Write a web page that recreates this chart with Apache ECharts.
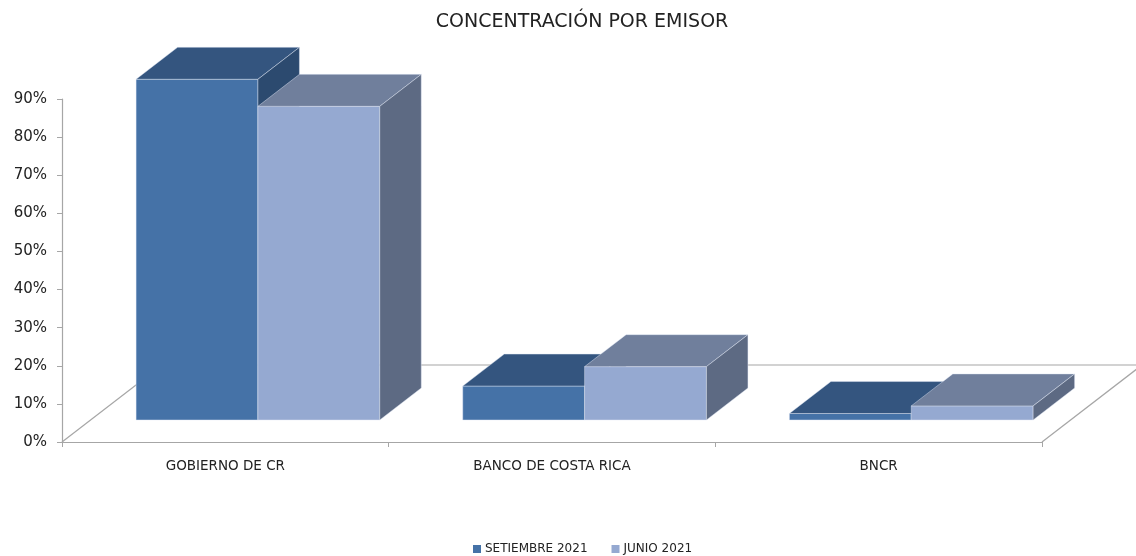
<!DOCTYPE html>
<html>
<head>
    <meta charset="utf-8">
    <script src="https://cdn.jsdelivr.net/npm/echarts@6/dist/echarts.min.js"></script>
</head>
<body style="margin:0;">
<div id="main" style="width: 1136px;height:556px;"></div>
<script type="text/javascript">
    // datos
    var emisores = ['GOBIERNO DE CR', 'BANCO DE COSTA RICA', 'BNCR'];
    var setiembre2021 = [0.894, 0.089, 0.017];
    var junio2021 = [0.823, 0.140, 0.037];
    var yTicks = [0, 0.1, 0.2, 0.3, 0.4, 0.5, 0.6, 0.7, 0.8, 0.9];

    // perspectiva del piso 3D (px)
    var FLOOR_DX = 100, FLOOR_DY = 77;
    var FRONT_FRAC = 0.286, DEPTH_FRAC = 0.415;
    var BAR_FRAC = 0.373, PAIR_SHIFT = 4;

    var colSet = { front: '#4572a7', top: '#34557f', side: '#2c4a6f' };
    var colJun = { front: '#95a9d1', top: '#707f9c', side: '#5d6a83' };

    var FONT = 'DejaVu Sans';

    var myChart = echarts.init(document.getElementById('main'));

    function barRenderer(idx, col) {
        return function (params, api) {
            var cat = api.value(0);
            var val = api.value(1);
            var base = api.coord([cat, 0]);
            var top = api.coord([cat, val]);
            var band = api.size([1, 0])[0];
            var w = band * BAR_FRAC;
            var fx = FLOOR_DX * FRONT_FRAC, fy = FLOOR_DY * FRONT_FRAC;
            var dx = FLOOR_DX * DEPTH_FRAC, dy = FLOOR_DY * DEPTH_FRAC;
            var x0 = base[0] + PAIR_SHIFT + (idx === 0 ? -w : 0) + fx;
            var x1 = x0 + w;
            var yb = base[1] - fy, yt = top[1] - fy;
            var edge = { stroke: 'rgba(225,232,245,0.55)', lineWidth: 0.8 };
            return {
                type: 'group',
                children: [
                    { type: 'polygon', shape: { points: [[x0, yt], [x1, yt], [x1, yb], [x0, yb]] },
                      style: Object.assign({ fill: col.front }, edge) },
                    { type: 'polygon', shape: { points: [[x0, yt], [x1, yt], [x1 + dx, yt - dy], [x0 + dx, yt - dy]] },
                      style: Object.assign({ fill: col.top }, edge) },
                    { type: 'polygon', shape: { points: [[x1, yt], [x1 + dx, yt - dy], [x1 + dx, yb - dy], [x1, yb]] },
                      style: Object.assign({ fill: col.side }, edge) }
                ]
            };
        };
    }

    function floorRenderer(params, api) {
        var cs = params.coordSys;
        var x = cs.x, w = cs.width, yb = cs.y + cs.height;
        var ls = { stroke: '#a6a6a6', lineWidth: 1.2, fill: null };
        return {
            type: 'group',
            children: [
                { type: 'line', shape: { x1: x, y1: yb, x2: x + FLOOR_DX, y2: yb - FLOOR_DY }, style: ls },
                { type: 'line', shape: { x1: x + FLOOR_DX, y1: yb - FLOOR_DY, x2: x + w + FLOOR_DX, y2: yb - FLOOR_DY }, style: ls },
                { type: 'line', shape: { x1: x + w, y1: yb, x2: x + w + FLOOR_DX, y2: yb - FLOOR_DY }, style: ls }
            ]
        };
    }

    myChart.setOption({
        animation: false,
        textStyle: { fontFamily: FONT },
        title: {
            text: 'CONCENTRACIÓN POR EMISOR',
            left: 577,
            textAlign: 'center',
            top: 8,
            textStyle: { fontSize: 19, fontWeight: 'normal', color: '#222', fontFamily: FONT }
        },
        legend: {
            data: ['SETIEMBRE 2021', 'JUNIO 2021'],
            left: 468,
            top: 538,
            icon: 'rect',
            itemWidth: 8,
            itemHeight: 8,
            itemGap: 24,
            textStyle: { fontSize: 12, color: '#222', fontFamily: FONT, padding: [0, 0, 0, -1] }
        },
        grid: { left: 62, right: 94, top: 99, bottom: 114 },
        xAxis: {
            type: 'category',
            data: emisores,
            axisLine: { lineStyle: { color: '#a6a6a6', width: 1.2 } },
            axisTick: { show: true, length: 5, lineStyle: { color: '#a6a6a6' } },
            axisLabel: { interval: 0, margin: 17, fontSize: 13.5, color: '#222' }
        },
        yAxis: {
            type: 'value',
            min: yTicks[0],
            max: yTicks[yTicks.length - 1],
            interval: 0.1,
            splitLine: { show: false },
            axisLine: { show: true, lineStyle: { color: '#a6a6a6', width: 1.2 } },
            axisTick: { show: true, length: 5, lineStyle: { color: '#a6a6a6' } },
            axisLabel: {
                margin: 15, fontSize: 15, color: '#222', padding: [3, 0, 0, 0],
                formatter: function (v) { return Math.round(v * 100) + '%'; }
            }
        },
        series: [
            {
                type: 'custom', name: 'piso', silent: true, z: 1,
                renderItem: floorRenderer,
                data: [[0, 0]]
            },
            {
                type: 'custom', name: 'SETIEMBRE 2021', z: 2,
                itemStyle: { color: colSet.front },
                renderItem: barRenderer(0, colSet),
                data: setiembre2021.map(function (v, i) { return [i, v]; })
            },
            {
                type: 'custom', name: 'JUNIO 2021', z: 3,
                itemStyle: { color: colJun.front },
                renderItem: barRenderer(1, colJun),
                data: junio2021.map(function (v, i) { return [i, v]; })
            }
        ]
    });
</script>
</body>
</html>
